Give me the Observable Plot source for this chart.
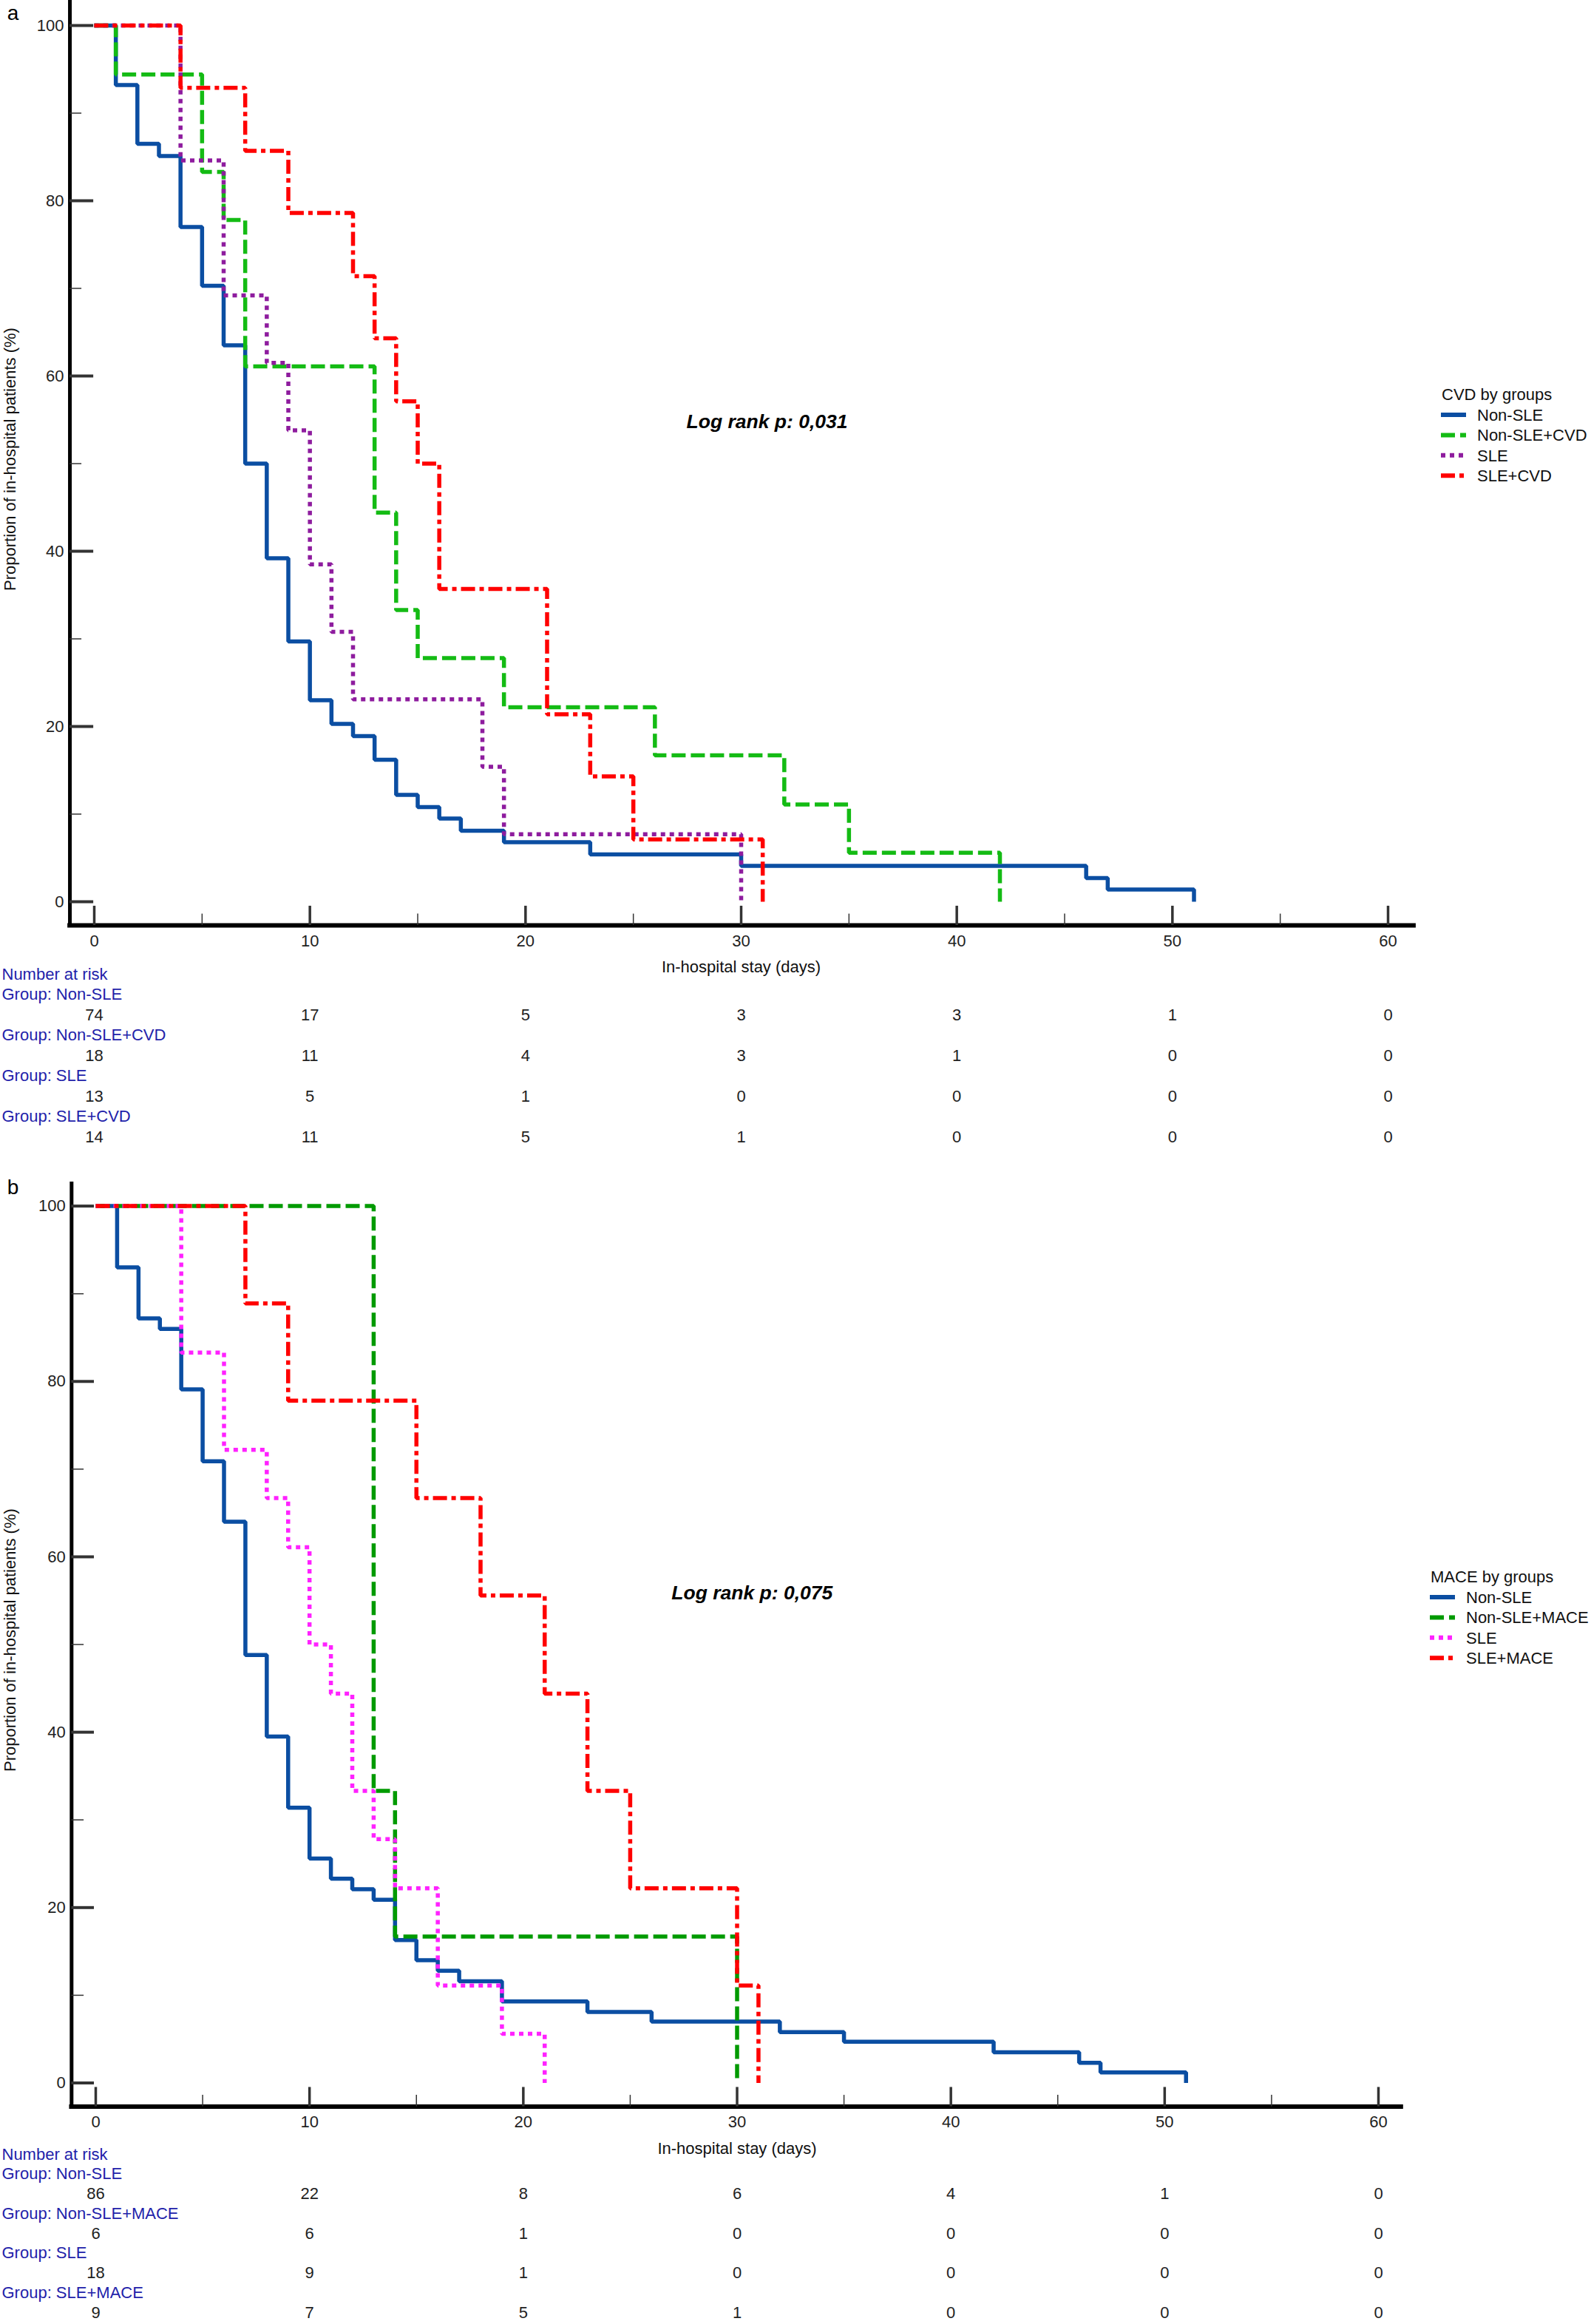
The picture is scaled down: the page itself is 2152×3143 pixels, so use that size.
<!DOCTYPE html>
<html>
<head>
<meta charset="utf-8">
<script src="https://cdn.jsdelivr.net/npm/d3@7"></script>
<script src="https://cdn.jsdelivr.net/npm/@observablehq/plot@0.6"></script>
<style>
  body { margin: 0; background: #fff; }
  #page { position: relative; width: 2152px; height: 3143px; overflow: hidden; font-family: "Liberation Sans", Arial, sans-serif; }
  #page > * { position: absolute; }
</style>
</head>
<body>
<div id="page"></div>
<script>
const FONT = '"Liberation Sans", Arial, sans-serif';

// axis ticks
const xMajor = [0, 10, 20, 30, 40, 50, 60];
const xMinor = [5, 15, 25, 35, 45, 55];
const yMajor = [0, 20, 40, 60, 80, 100];
const yMinor = [10, 30, 50, 70, 90];
const riskTimes = [0, 10, 20, 30, 40, 50, 60];

// panel a : CVD
const groupsA = ["Non-SLE", "Non-SLE+CVD", "SLE", "SLE+CVD"];
const colorsA = ["#0b4ea2", "#14bb14", "#8e1c9e", "#ff0000"];
const daysA_nonSLE = [0, 1, 2, 3, 4, 5, 6, 7, 8, 9, 10, 11, 12, 13, 14, 15, 16, 17, 19, 23, 30, 46, 47, 51];
const survA_nonSLE = [100, 93.2, 86.5, 85.1, 77.0, 70.3, 63.5, 50.0, 39.2, 29.7, 23.0, 20.3, 18.9, 16.2, 12.2, 10.8, 9.5, 8.1, 6.8, 5.4, 4.1, 2.7, 1.4, 0];
const daysA_nonSLEcvd = [0, 1, 5, 6, 7, 13, 14, 15, 19, 26, 32, 35, 42];
const survA_nonSLEcvd = [100, 94.4, 83.3, 77.8, 61.1, 44.4, 33.3, 27.8, 22.2, 16.7, 11.1, 5.6, 0];
const daysA_sle = [0, 4, 6, 8, 9, 10, 11, 12, 18, 19, 30];
const survA_sle = [100, 84.6, 69.2, 61.5, 53.8, 38.5, 30.8, 23.1, 15.4, 7.7, 0];
const daysA_slecvd = [0, 4, 7, 9, 12, 13, 14, 15, 16, 21, 23, 25, 31];
const survA_slecvd = [100, 92.9, 85.7, 78.6, 71.4, 64.3, 57.1, 50, 35.7, 21.4, 14.3, 7.1, 0];
const riskA_nonSLE = [74, 17, 5, 3, 3, 1, 0];
const riskA_nonSLEcvd = [18, 11, 4, 3, 1, 0, 0];
const riskA_sle = [13, 5, 1, 0, 0, 0, 0];
const riskA_slecvd = [14, 11, 5, 1, 0, 0, 0];

// panel b : MACE
const groupsB = ["Non-SLE", "Non-SLE+MACE", "SLE", "SLE+MACE"];
const colorsB = ["#0b4ea2", "#009a00", "#ff22ff", "#ff0000"];
const daysB_nonSLE = [0, 1, 2, 3, 4, 5, 6, 7, 8, 9, 10, 11, 12, 13, 14, 15, 16, 17, 19, 23, 26, 32, 35, 42, 46, 47, 51];
const survB_nonSLE = [100, 93.0, 87.2, 86.0, 79.1, 70.9, 64.0, 48.8, 39.5, 31.4, 25.6, 23.3, 22.1, 20.9, 16.3, 14.0, 12.8, 11.6, 9.3, 8.1, 7.0, 5.8, 4.7, 3.5, 2.3, 1.2, 0];
const daysB_nonSLEmace = [0, 13, 14, 30];
const survB_nonSLEmace = [100, 33.3, 16.7, 0];
const daysB_sle = [0, 4, 6, 8, 9, 10, 11, 12, 13, 14, 16, 19, 21];
const survB_sle = [100, 83.3, 72.2, 66.7, 61.1, 50.0, 44.4, 33.3, 27.8, 22.2, 11.1, 5.6, 0];
const daysB_slemace = [0, 7, 9, 15, 18, 21, 23, 25, 30, 31];
const survB_slemace = [100, 88.9, 77.8, 66.7, 55.6, 44.4, 33.3, 22.2, 11.1, 0];
const riskB_nonSLE = [86, 22, 8, 6, 4, 1, 0];
const riskB_nonSLEmace = [6, 6, 1, 0, 0, 0, 0];
const riskB_sle = [18, 9, 1, 0, 0, 0, 0];
const riskB_slemace = [9, 7, 5, 1, 0, 0, 0];

const dashes = [null, "19,7", "6,6", "19,6,6,6"];

// where the offset axis lines sit, in data units
const yAxisX = -1.13;
const xAxisY = -2.7;

const page = document.getElementById("page");

function place(el, left, top) {
  el.style.position = "absolute";
  el.style.left = left + "px";
  el.style.top = top + "px";
  page.appendChild(el);
}

function drawPanel(p) {
  const rows = p.groups.flatMap((g, i) => p.days[i].map((d, j) => ({group: g, day: d, surv: p.surv[i][j]})));

  const chart = Plot.plot({
    width: 2152,
    height: 1340,
    marginLeft: 0, marginRight: 0, marginTop: 0, marginBottom: 0,
    style: {background: "transparent", fontFamily: FONT, color: "#222", overflow: "visible"},
    x: {domain: [0, 60], range: p.xRange, axis: null},
    y: {domain: [0, 100], range: p.yRange, axis: null},
    marks: [
      // axes (offset from the data area)
      Plot.ruleX([yAxisX], {y1: xAxisY, y2: p.yTop, stroke: "#000", strokeWidth: 5}),
      Plot.ruleY([xAxisY], {x1: yAxisX - 0.1, x2: p.xEnd, stroke: "#000", strokeWidth: 6}),
      Plot.ruleY(yMajor, {x1: yAxisX, x2: p.yMajorEnd, stroke: "#333", strokeWidth: 4}),
      Plot.ruleY(yMinor, {x1: yAxisX, x2: p.yMinorEnd, stroke: "#333", strokeWidth: 1.5}),
      Plot.ruleX(xMajor, {y1: xAxisY, y2: -0.5, stroke: "#333", strokeWidth: 3.5}),
      Plot.ruleX(xMinor, {y1: xAxisY, y2: -1.4, stroke: "#333", strokeWidth: 1.5}),
      Plot.text(yMajor, {x: yAxisX, y: d => d, text: d => d, dx: -8, textAnchor: "end", fontSize: 22, fill: "#222"}),
      Plot.text(xMajor, {x: d => d, y: xAxisY, text: d => d, dy: 21, fontSize: 22, fill: "#222"}),
      Plot.text(["In-hospital stay (days)"], {x: 30, y: xAxisY, dy: p.xTitleDy, fontSize: 22, fill: "#111"}),
      Plot.text(["Proportion of in-hospital patients (%)"], {frameAnchor: "left", y: 50.5, dx: 13, rotate: -90, textAnchor: "middle", lineAnchor: "middle", fontSize: 22, fill: "#111"}),
      // curves
      ...p.groups.map((g, i) => Plot.line(rows.filter(r => r.group === g), {
        x: "day", y: "surv", curve: "step-after",
        stroke: p.colors[i], strokeWidth: 5.5, strokeDasharray: dashes[i],
        strokeLinejoin: "miter", strokeLinecap: "butt"
      })),
      Plot.text([p.logrank], {x: p.logrankAt[0], y: p.logrankAt[1], fontSize: 26.5, fontWeight: "bold", fontStyle: "italic", fill: "#000"}),
      Plot.text([p.letter], {frameAnchor: "top-left", dx: 17, dy: p.letterY, fontSize: 28, textAnchor: "middle", lineAnchor: "middle", fill: "#000"})
    ]
  });
  place(chart, 0, p.top);

  // number at risk table
  const labelRows = p.groups.map((g, i) => ({label: "Group: " + g, row: 1 + 2 * i}));
  const numRows = p.groups.flatMap((g, i) => riskTimes.map((t, j) => ({t, n: p.risk[i][j], row: 2 + 2 * i})));
  const table = Plot.plot({
    width: 2152,
    height: p.tableHeight,
    marginLeft: 0, marginRight: 0, marginTop: 0, marginBottom: 0,
    style: {background: "transparent", fontFamily: FONT, overflow: "visible"},
    x: {domain: [0, 60], range: p.xRange, axis: null},
    y: {domain: [0, 8], range: p.tableRange, axis: null},
    marks: [
      Plot.text(["Number at risk"], {frameAnchor: "left", y: 0, dx: 2, textAnchor: "start", fontSize: 22, fill: "#2222aa"}),
      Plot.text(labelRows, {frameAnchor: "left", y: "row", text: "label", dx: 2, textAnchor: "start", fontSize: 22, fill: "#2222aa"}),
      Plot.text(numRows, {x: "t", y: "row", text: "n", fontSize: 22, fill: "#222"})
    ]
  });
  place(table, 0, p.tableTop);

  // legend
  const leg = d3.create("svg").attr("width", 230).attr("height", 150)
    .style("font-family", FONT).style("overflow", "visible");
  leg.append("text").attr("x", 10).attr("y", 18).attr("dy", "0.35em")
    .attr("font-size", 22).attr("fill", "#111").text(p.legendTitle);
  p.groups.forEach((g, i) => {
    const y = 46 + 27.4 * i;
    leg.append("line").attr("x1", 9).attr("x2", 43).attr("y1", y).attr("y2", y)
      .attr("stroke", p.colors[i]).attr("stroke-width", 6)
      .attr("stroke-dasharray", dashes[i]);
    leg.append("text").attr("x", 58).attr("y", y).attr("dy", "0.35em")
      .attr("font-size", 22).attr("fill", "#111").text(g);
  });
  place(leg.node(), p.legendAt[0], p.legendAt[1]);
}

drawPanel({
  letter: "a", letterY: 18, top: 0,
  groups: groupsA, colors: colorsA,
  days: [daysA_nonSLE, daysA_nonSLEcvd, daysA_sle, daysA_slecvd],
  surv: [survA_nonSLE, survA_nonSLEcvd, survA_sle, survA_slecvd],
  risk: [riskA_nonSLE, riskA_nonSLEcvd, riskA_sle, riskA_slecvd],
  xRange: [127, 1877], yRange: [1219, 34],
  yTop: 102.87, xEnd: 61.3, yMajorEnd: -0.03, yMinorEnd: -0.58, xTitleDy: 56,
  logrank: "Log rank p: 0,031", logrankAt: [31.2, 54.8],
  legendTitle: "CVD by groups", legendAt: [1940, 515],
  tableTop: 1300, tableHeight: 262, tableRange: [17, 237]
});

drawPanel({
  letter: "b", letterY: 26, top: 1580,
  groups: groupsB, colors: colorsB,
  days: [daysB_nonSLE, daysB_nonSLEmace, daysB_sle, daysB_slemace],
  surv: [survB_nonSLE, survB_nonSLEmace, survB_sle, survB_slemace],
  risk: [riskB_nonSLE, riskB_nonSLEmace, riskB_sle, riskB_slemace],
  xRange: [129, 1864], yRange: [1236.5, 50.6],
  yTop: 102.75, xEnd: 61.17, yMajorEnd: -0.07, yMinorEnd: -0.55, xTitleDy: 57,
  logrank: "Log rank p: 0,075", logrankAt: [30.7, 55.9],
  legendTitle: "MACE by groups", legendAt: [1925, 2114],
  tableTop: 2897, tableHeight: 246, tableRange: [16, 230]
});
</script>
</body>
</html>
